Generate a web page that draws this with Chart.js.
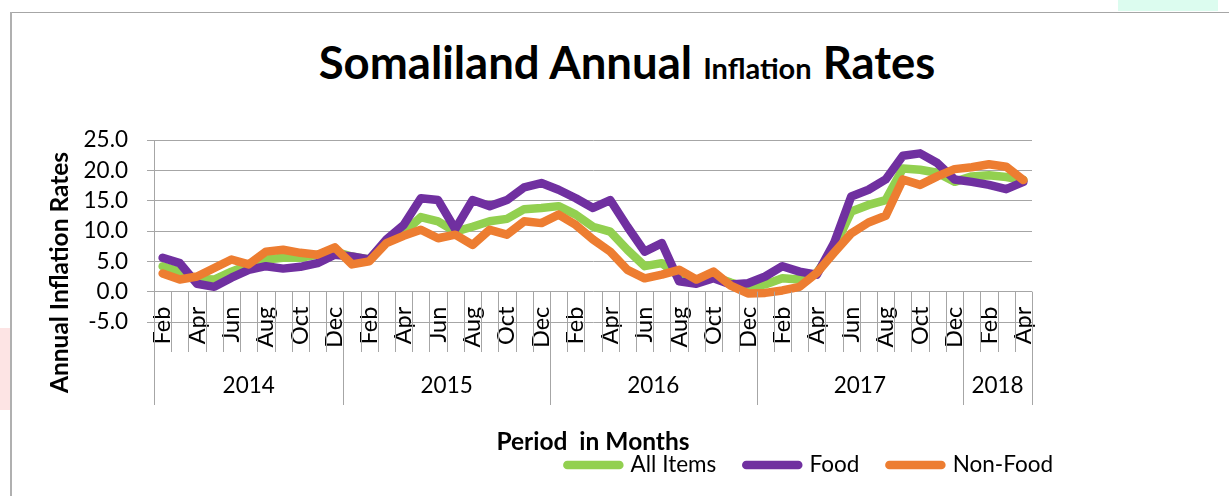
<!DOCTYPE html>
<html>
<head>
<meta charset="utf-8">
<script src="https://cdn.jsdelivr.net/npm/chart.js@4/dist/chart.umd.min.js"></script>
<style>
  html, body { margin: 0; padding: 0; background: #fff; }
  #wrap { position: relative; width: 1229px; height: 496px; overflow: hidden; }
  #frameTop { position: absolute; left: 10px; top: 12px; width: 1219px; height: 1px; background: #a6a6a6; }
  #frameLeft { position: absolute; left: 10px; top: 12px; width: 2px; height: 484px; background: #b0b0b0; }
  #pink { position: absolute; left: 0; top: 328px; width: 10px; height: 82px; background: #fde4e4; }
  #mint { position: absolute; left: 1118px; top: 0; width: 100px; height: 11px; background: #dcfcef; }
  #title { position: absolute; left: 0; top: 37px; width: 1254px; text-align: center;
           font-family: Lato, sans-serif; font-weight: bold; color: #000; line-height: 50px; white-space: pre; }
  #title .big { font-size: 45.5px; }
  #title .small { font-size: 29px; }
  canvas { position: absolute; left: 0; top: 0; }
</style>
</head>
<body>
<div id="wrap">
  <div id="pink"></div>
  <div id="mint"></div>
  <div id="frameTop"></div>
  <div id="frameLeft"></div>
  <div id="title"><span class="big">Somaliland Annual </span><span class="small">Inflation</span><span class="big"> Rates</span></div>
  <canvas id="inflationChart" width="1229" height="496"></canvas>
</div>
<script>
// Feb 2014 .. Apr 2018
const months = [
  'Feb', 'Mar', 'Apr', 'May', 'Jun', 'Jul', 'Aug', 'Sep', 'Oct', 'Nov', 'Dec',
  'Jan', 'Feb', 'Mar', 'Apr', 'May', 'Jun', 'Jul', 'Aug', 'Sep', 'Oct', 'Nov', 'Dec',
  'Jan', 'Feb', 'Mar', 'Apr', 'May', 'Jun', 'Jul', 'Aug', 'Sep', 'Oct', 'Nov', 'Dec',
  'Jan', 'Feb', 'Mar', 'Apr', 'May', 'Jun', 'Jul', 'Aug', 'Sep', 'Oct', 'Nov', 'Dec',
  'Jan', 'Feb', 'Mar', 'Apr'
];
const years = ['2014', '2015', '2016', '2017', '2018'];
const yearFirstMonth = [0, 11, 23, 35, 47];

const allItems = [
  4.2, 3.3, 2.1, 2.0, 3.3, 4.4, 5.3, 5.6, 5.6, 6.1, 6.6,
  5.8, 5.3, 8.4, 9.7, 12.3, 11.6, 9.9, 10.7, 11.6, 12.0, 13.6, 13.8,
  14.1, 12.7, 10.7, 9.9, 6.9, 4.2, 4.7, 2.5, 1.5, 2.5, 1.5, 0.6,
  1.2, 2.2, 2.0, 3.1, 7.2, 13.2, 14.3, 15.1, 20.3, 20.1, 19.6, 18.1,
  19.0, 19.2, 18.9, 18.4
];
const food = [
  5.6, 4.7, 1.3, 0.8, 2.3, 3.6, 4.2, 3.8, 4.1, 4.7, 6.1,
  5.8, 5.3, 8.6, 11.0, 15.4, 15.1, 10.3, 15.1, 14.1, 15.1, 17.2, 17.9,
  16.8, 15.4, 13.8, 15.1, 10.7, 6.6, 8.0, 1.7, 1.3, 2.2, 1.2, 1.4,
  2.5, 4.2, 3.3, 2.8, 8.0, 15.7, 16.8, 18.5, 22.4, 22.8, 21.2, 18.5,
  18.1, 17.6, 16.9, 18.1
];
const nonFood = [
  3.0, 2.0, 2.5, 3.9, 5.3, 4.5, 6.6, 6.9, 6.4, 6.1, 7.3,
  4.5, 5.0, 8.0, 9.2, 10.2, 8.8, 9.4, 7.7, 10.2, 9.4, 11.6, 11.3,
  12.7, 11.0, 8.6, 6.6, 3.6, 2.2, 2.8, 3.6, 2.0, 3.3, 1.0, -0.3,
  -0.2, 0.2, 0.8, 3.1, 6.4, 9.6, 11.4, 12.5, 18.5, 17.6, 19.0, 20.2,
  20.5, 21.0, 20.6, 18.4
];

const gridColor = '#a6a6a6';
Chart.defaults.font.family = 'Lato, sans-serif';
Chart.defaults.color = '#000';

// year centres on the period axis
const yearCenters = yearFirstMonth.map(function (start, i) {
    const end = i < yearFirstMonth.length - 1 ? yearFirstMonth[i + 1] - 1 : months.length - 1;
    return (start + end) / 2;
});

// vertical separators from the zero line down: short per month, longer between years
const dividers = {
    id: 'dividers',
    afterDraw: function (chart) {
        const ctx = chart.ctx;
        const x2 = chart.scales.x2;
        const y0 = chart.scales.y.getPixelForValue(0);
        const monthEnd = chart.chartArea.bottom + 30;
        const yearEnd = chart.chartArea.bottom + 83;
        ctx.save();
        ctx.strokeStyle = gridColor;
        ctx.lineWidth = 1;
        for (let k = 0; k <= months.length; k++) {
            const px = Math.round(x2.getPixelForValue(k - 0.5)) + 0.5;
            const isYear = yearFirstMonth.indexOf(k) >= 0 || k === months.length;
            ctx.beginPath();
            ctx.moveTo(px, y0);
            ctx.lineTo(px, isYear ? yearEnd : monthEnd);
            ctx.stroke();
        }
        ctx.restore();
    }
};

const ctx = document.getElementById('inflationChart').getContext('2d');

new Chart(ctx, {
    type: 'line',
    data: {
        labels: months,
        datasets: [{
            label: 'All Items',
            data: allItems,
            borderColor: '#92d050',
            backgroundColor: '#92d050',
            order: 2
        }, {
            label: 'Food',
            data: food,
            borderColor: '#7030a0',
            backgroundColor: '#7030a0',
            order: 1
        }, {
            label: 'Non-Food',
            data: nonFood,
            borderColor: '#ed7d31',
            backgroundColor: '#ed7d31',
            order: 0
        }]
    },
    options: {
        responsive: false,
        animation: false,
        datasets: {
            line: {
                xAxisID: 'x',
                yAxisID: 'y',
                borderWidth: 8.5,
                pointRadius: 0,
                tension: 0,
                fill: false,
                borderJoinStyle: 'round',
                borderCapStyle: 'round'
            }
        },
        layout: {
            padding: { top: 140, left: 12, right: 146, bottom: 9.75 }
        },
        plugins: {
            tooltip: { enabled: false },
            title: { display: false },
            legend: {
                position: 'bottom',
                align: 'end',
                labels: {
                    usePointStyle: true,
                    pointStyle: 'line',
                    pointStyleWidth: 52,
                    padding: 30,
                    color: '#000',
                    font: { size: 22.5 },
                    sort: function (a, b) { return a.datasetIndex - b.datasetIndex; },
                    generateLabels: function (chart) {
                        const items = Chart.defaults.plugins.legend.labels.generateLabels(chart);
                        items.forEach(function (item) { item.lineCap = 'round'; });
                        return items;
                    }
                }
            }
        },
        scales: {
            x: {
                type: 'category',
                position: { y: 0 },
                offset: true,
                grid: { display: false, drawTicks: false },
                border: { display: false },
                ticks: {
                    autoSkip: false,
                    minRotation: 90,
                    maxRotation: 90,
                    padding: 15,
                    font: { size: 23.5 },
                    callback: function (value, index) {
                        return index % 2 === 0 ? months[index] : '';
                    }
                },
                afterFit: function (scale) { scale.height = 60; }
            },
            x2: {
                type: 'linear',
                position: 'bottom',
                min: -0.5,
                max: months.length - 0.5,
                grid: { display: false, drawTicks: false },
                border: { display: false },
                afterBuildTicks: function (scale) {
                    scale.ticks = yearCenters.map(function (v) { return { value: v }; });
                },
                ticks: {
                    autoSkip: false,
                    maxRotation: 0,
                    padding: 50.5,
                    font: { size: 22.5 },
                    callback: function (value, index) { return years[index]; }
                },
                title: {
                    display: true,
                    text: 'Period  in Months',
                    font: { size: 24.5, weight: 'bold' },
                    padding: { top: 0, bottom: -33 }
                },
                afterFit: function (scale) { scale.height = 101.75; }
            },
            y: {
                position: 'left',
                min: -5,
                max: 25,
                grid: { color: gridColor, tickLength: 7 },
                border: { display: true, color: gridColor },
                ticks: {
                    stepSize: 5,
                    padding: 19,
                    font: { size: 22.5 },
                    callback: function (value) { return value.toFixed(1); }
                },
                title: {
                    display: true,
                    text: 'Annual Inflation Rates  ',
                    align: 'end',
                    font: { size: 24.5, weight: 'bold' },
                    padding: { top: 33, bottom: 0 }
                },
                afterFit: function (scale) { scale.width = 142; }
            },
            yR: {
                position: 'right',
                grid: { display: false, drawTicks: false },
                border: { display: false },
                ticks: { display: false },
                afterFit: function (scale) { scale.width = 51; }
            }
        }
    },
    plugins: [dividers]
});
</script>
</body>
</html>
